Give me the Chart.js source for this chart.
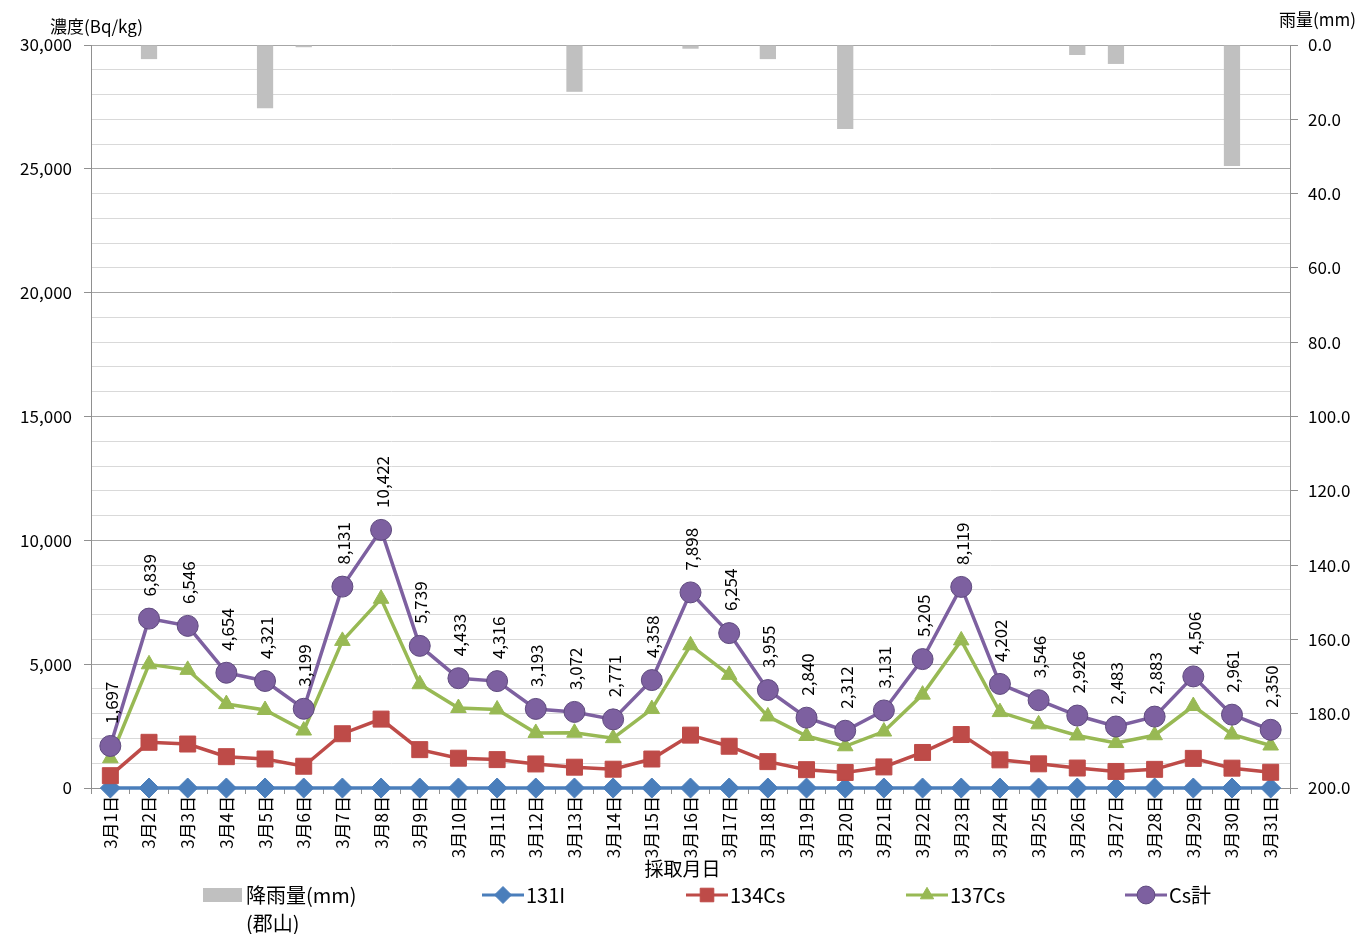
<!DOCTYPE html>
<html>
<head>
<meta charset="utf-8">
<script src="https://cdn.jsdelivr.net/npm/chart.js@4/dist/chart.umd.min.js"></script>
<style>
  html, body { margin: 0; padding: 0; background: #fff; }
  #wrap { width: 1359px; height: 934px; }
</style>
</head>
<body>
<div id="wrap"><canvas id="myChart"></canvas></div>
<script>
const FONT = '"Noto Sans CJK JP", "Noto Sans", sans-serif';

// data
const days = [];
for (let d = 1; d <= 31; d++) days.push('3月' + d + '日');

const rain = [null, 3.8, null, null, 17.0, 0.6, null, null, null, null, null, null, 12.6, null, null, 1.0,
  null, 3.8, null, 22.6, null, null, null, null, null, 2.7, 5.1, null, null, 32.6, null];
const i131 = [0, 0, 0, 0, 0, 0, 0, 0, 0, 0, 0, 0, 0, 0, 0, 0, 0, 0, 0, 0, 0, 0, 0, 0, 0, 0, 0, 0, 0, 0, 0];
const cs134 = [497, 1845, 1776, 1265, 1171, 879, 2191, 2782, 1549, 1203, 1146, 971, 840, 759, 1170, 2135,
  1686, 1065, 740, 627, 851, 1435, 2159, 1137, 976, 806, 668, 753, 1196, 801, 635];
const cs137 = [1200, 4994, 4770, 3389, 3150, 2320, 5940, 7640, 4190, 3230, 3170, 2222, 2232, 2012, 3188, 5763,
  4568, 2890, 2100, 1685, 2280, 3770, 5960, 3065, 2570, 2120, 1815, 2130, 3310, 2160, 1715];
const csTotal = [1697, 6839, 6546, 4654, 4321, 3199, 8131, 10422, 5739, 4433, 4316, 3193, 3072, 2771, 4358, 7898,
  6254, 3955, 2840, 2312, 3131, 5205, 8119, 4202, 3546, 2926, 2483, 2883, 4506, 2961, 2350];

const leftTicks = [0, 5000, 10000, 15000, 20000, 25000, 30000];

const ctx = document.getElementById('myChart');

// rotated value labels above the Cs計 points, plus axis titles and legend
const extras = {
  id: 'extras',
  afterDatasetsDraw(chart) {
    const c = chart.ctx;
    const meta = chart.getDatasetMeta(4);
    c.save();
    c.fillStyle = '#000';
    c.font = '17px ' + FONT;
    c.textAlign = 'left';
    c.textBaseline = 'middle';
    meta.data.forEach((pt, i) => {
      c.save();
      c.translate(pt.x + 1, pt.y - 22);
      c.rotate(-Math.PI / 2);
      c.fillText(csTotal[i].toLocaleString('en-US'), 0, 0);
      c.restore();
    });
    c.restore();
  },
  afterDraw(chart) {
    const c = chart.ctx;
    const area = chart.chartArea;
    c.save();
    c.fillStyle = '#000';
    c.font = '17px ' + FONT;
    c.textBaseline = 'middle';
    c.textAlign = 'left';
    c.fillText('濃度(Bq/kg)', 50, 27);
    c.textAlign = 'right';
    c.fillText('雨量(mm)', 1356, 20);
    c.textAlign = 'center';
    c.font = '19px ' + FONT;
    c.fillText('採取月日', (area.left + area.right) / 2 - 8, 869);

    // legend
    c.font = '20px ' + FONT;
    c.textAlign = 'left';
    const ly = 895;
    c.fillStyle = '#c0c0c0';
    c.fillRect(203, ly - 7, 39, 14);
    c.fillStyle = '#000';
    c.fillText('降雨量(mm)', 246, ly);
    c.fillText('(郡山)', 246, ly + 28);

    const items = [
      { x: 482, ds: chart.data.datasets[1], label: '131I' },
      { x: 686, ds: chart.data.datasets[2], label: '134Cs' },
      { x: 906, ds: chart.data.datasets[3], label: '137Cs' },
      { x: 1125, ds: chart.data.datasets[4], label: 'Cs計' }
    ];
    items.forEach(it => {
      c.strokeStyle = it.ds.borderColor;
      c.lineWidth = 3;
      c.beginPath();
      c.moveTo(it.x, ly);
      c.lineTo(it.x + 42, ly);
      c.stroke();
      c.fillStyle = it.ds.pointBackgroundColor;
      c.strokeStyle = it.ds.pointBorderColor;
      c.lineWidth = 1;
      Chart.helpers.drawPoint(c, {
        pointStyle: it.ds.pointStyle,
        radius: it.ds.pointRadius * 0.85,
        borderWidth: 1
      }, it.x + 21, ly);
      c.fillStyle = '#000';
      c.fillText(it.label, it.x + 44, ly);
    });
    c.restore();
  }
};

function pointDs(label, data, color, style, radius, border) {
  return {
    type: 'line',
    label: label,
    data: data,
    yAxisID: 'y',
    clip: false,
    borderColor: color,
    backgroundColor: color,
    borderWidth: 3.5,
    pointStyle: style,
    pointRadius: radius,
    pointBorderColor: border,
    pointBackgroundColor: color,
    pointBorderWidth: 1,
    tension: 0
  };
}

const myChart = new Chart(ctx, {
  data: {
    labels: days,
    datasets: [
      {
        type: 'bar',
        label: '降雨量(mm)(郡山)',
        data: rain,
        yAxisID: 'y1',
        backgroundColor: '#c0c0c0',
        borderWidth: 0,
        barPercentage: 0.42,
        categoryPercentage: 1.0,
        order: 5
      },
      Object.assign(pointDs('131I', i131, '#4a7ebb', 'rectRot', 10, '#4a7ebb'), { order: 4 }),
      Object.assign(pointDs('134Cs', cs134, '#be4b48', 'rect', 11.3, '#be4b48'), { order: 3 }),
      Object.assign(pointDs('137Cs', cs137, '#98b954', 'triangle', 9, '#98b954'), { order: 2 }),
      Object.assign(pointDs('Cs計', csTotal, '#7d60a0', 'circle', 10.5, '#5f4a7e'), { order: 1 })
    ]
  },
  options: {
    responsive: true,
    maintainAspectRatio: false,
    animation: false,
    layout: { padding: { top: 45, left: 0, right: 0, bottom: 0 } },
    plugins: {
      legend: { display: false },
      tooltip: { enabled: false }
    },
    scales: {
      x: {
        offset: true,
        grid: {
          offset: true,
          drawOnChartArea: false,
          drawTicks: true,
          tickLength: 6,
          color: '#909090'
        },
        border: { color: '#909090' },
        ticks: {
          color: '#000',
          font: { family: FONT, size: 17 },
          minRotation: 90,
          maxRotation: 90,
          autoSkip: false,
          padding: 2
        },
        afterFit(scale) { scale.height = 146; }
      },
      y: {
        position: 'left',
        min: 0,
        max: 30000,
        afterBuildTicks(scale) {
          const t = [];
          for (let v = 0; v <= 30000; v += 1000) t.push({ value: v });
          scale.ticks = t;
        },
        grid: {
          color: c => (c.tick && c.tick.value % 5000 === 0) ? '#a6a6a6' : '#d9d9d9',
          tickColor: c => (c.tick && c.tick.value % 5000 === 0) ? '#909090' : 'rgba(0,0,0,0)',
          tickLength: 7,
          lineWidth: 1
        },
        border: { color: '#909090' },
        ticks: {
          color: '#000',
          font: { family: FONT, size: 17 },
          autoSkip: false,
          padding: 12,
          callback: v => leftTicks.includes(v) ? v.toLocaleString('en-US') : ''
        },
        afterFit(scale) { scale.width = 91; }
      },
      y1: {
        position: 'right',
        reverse: true,
        min: 0,
        max: 200,
        grid: {
          drawOnChartArea: false,
          tickLength: 8,
          color: '#909090'
        },
        border: { color: '#909090' },
        ticks: {
          stepSize: 20,
          color: '#000',
          font: { family: FONT, size: 17 },
          padding: 10,
          callback: v => v.toFixed(1)
        },
        afterFit(scale) { scale.width = 69; }
      }
    }
  },
  plugins: [extras]
});
</script>
</body>
</html>
